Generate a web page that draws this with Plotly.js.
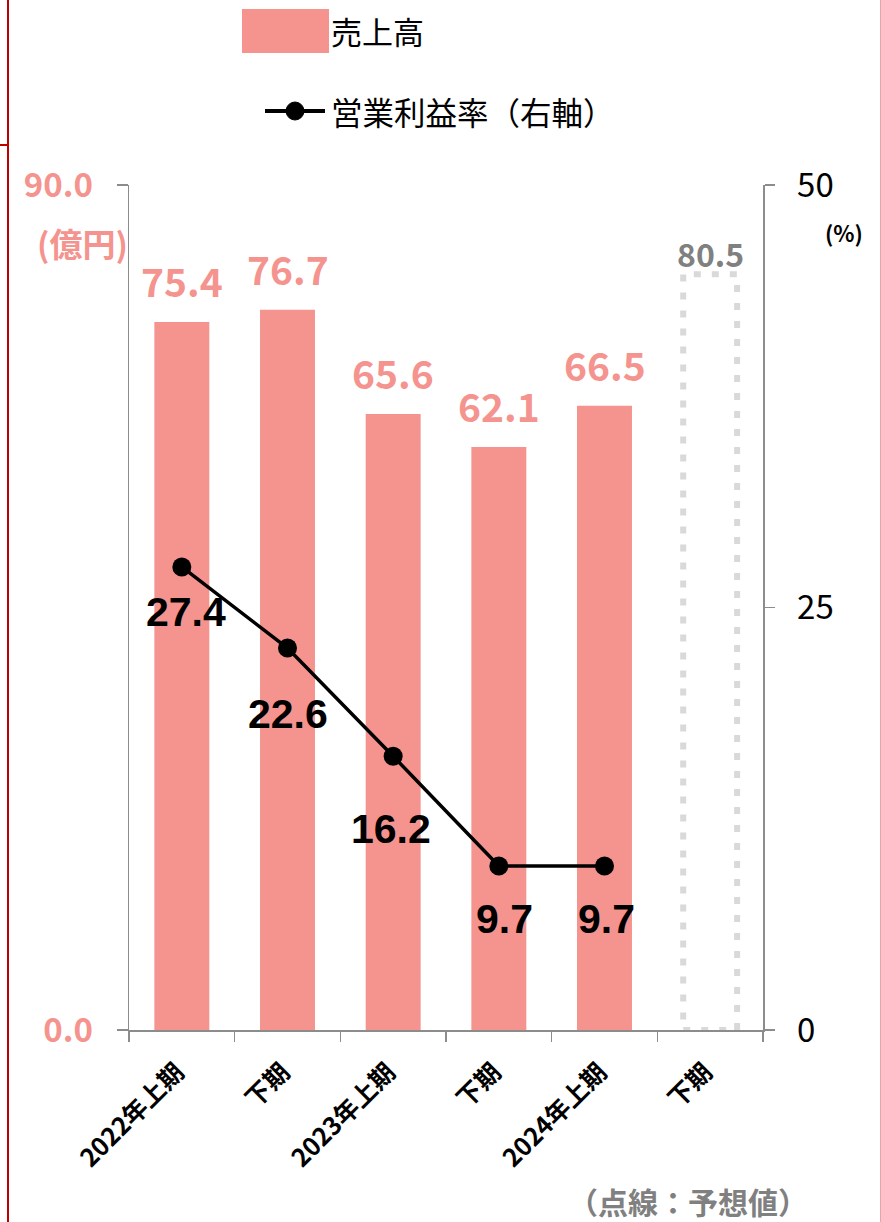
<!DOCTYPE html>
<html>
<head>
<meta charset="utf-8">
<script src="https://cdn.plot.ly/plotly-3.0.1.min.js"></script>
<style>
  html, body { margin: 0; padding: 0; background: #fff; }
  #wrap { position: relative; width: 881px; height: 1222px; overflow: hidden; }
  #chart { position: absolute; left: 0; top: 0; width: 881px; height: 1222px; }
  .vline { position: absolute; left: 7px; top: 0; width: 2px; height: 1222px; background: #C00000; }
  .hline { position: absolute; left: 0; top: 144px; width: 8px; height: 2px; background: #C00000; }
  .rline { position: absolute; left: 880px; top: 0; width: 1px; height: 1222px; background: #E8A3A3; }
</style>
</head>
<body>
<div id="wrap">
  <div id="chart"></div>
  <div class="vline"></div>
  <div class="hline"></div>
  <div class="rline"></div>
</div>
<script>
// ---- data ----
const categoryKeys = ['c1', 'c2', 'c3', 'c4', 'c5', 'c6'];
const categoryLabels = ['2022年上期', '下期', '2023年上期', '下期', '2024年上期', '下期'];
const salesActual = [75.4, 76.7, 65.6, 62.1, 66.5, null];
const salesForecast = [null, null, null, null, null, 80.5];
const marginRate = [27.4, 22.6, 16.2, 9.7, 9.7, null];
const salesName = '売上高';
const marginName = '営業利益率（右軸）';
const leftTicks = [0, 90];
const leftTickText = ['0.0', '90.0'];
const rightTicks = [0, 25, 50];

// ---- style ----
const SALMON = '#F5938E';
const JP = '"Noto Sans CJK JP", "Noto Sans", sans-serif';
const NUM = '"Liberation Sans", Arial, sans-serif';
const W = 881, H = 1222;
const M = { l: 129, r: 118, t: 185, b: 192 };
const PW = W - M.l - M.r, PH = H - M.t - M.b;
const px = x => (x - M.l) / PW;
const py = y => (H - M.b - y) / PH;

// label offsets (pixels) for line value labels: [dx, dy]
const lineLabelShift = [[4, -45], [0, -66], [-2, -73], [6, -53], [2, -53]];

const traces = [
  {
    type: 'bar', x: categoryKeys, y: salesActual, name: salesName,
    marker: { color: SALMON }, width: 0.52, yaxis: 'y', hoverinfo: 'skip', showlegend: false
  },
  {
    type: 'scatter', mode: 'lines+markers', x: categoryKeys, y: marginRate, name: marginName,
    yaxis: 'y2', line: { color: '#000', width: 3.5 },
    marker: { color: '#000', size: 19 }, hoverinfo: 'skip', showlegend: false
  }
];

const annotations = [];
const shapes = [];

// bar value labels
salesActual.forEach((v, i) => {
  if (v == null) return;
  annotations.push({
    x: categoryKeys[i], y: v, xref: 'x', yref: 'y', text: v.toFixed(1),
    showarrow: false, yanchor: 'middle', yshift: 42,
    font: { family: JP, size: 39, color: SALMON, weight: 'bold' }
  });
});
// forecast dotted bar
salesForecast.forEach((v, i) => {
  if (v == null) return;
  shapes.push({
    type: 'rect', xref: 'x', yref: 'y', x0: i - 0.255, x1: i + 0.255, y0: 0, y1: v,
    line: { color: '#D9D9D9', width: 6, dash: '7px,11px' }, fillcolor: 'rgba(0,0,0,0)'
  });
  annotations.push({
    x: categoryKeys[i], y: v, xref: 'x', yref: 'y', text: v.toFixed(1),
    showarrow: false, yanchor: 'middle', yshift: 21,
    font: { family: JP, size: 32, color: '#808080', weight: 'bold' }
  });
});
// line value labels
marginRate.forEach((v, i) => {
  if (v == null) return;
  annotations.push({
    x: categoryKeys[i], y: v, xref: 'x', yref: 'y2', text: v.toFixed(1),
    showarrow: false, yanchor: 'middle', xshift: lineLabelShift[i][0], yshift: lineLabelShift[i][1],
    font: { family: NUM, size: 41, color: '#000', weight: 'bold' }
  });
});

// manual legend
shapes.push({
  type: 'rect', xref: 'paper', yref: 'paper', x0: px(242), x1: px(329), y0: py(53), y1: py(9),
  fillcolor: SALMON, line: { width: 0 }
});
annotations.push({
  xref: 'paper', yref: 'paper', x: px(329), y: py(31), xanchor: 'left', yanchor: 'middle',
  text: salesName, showarrow: false, font: { family: JP, size: 31, color: '#000' }
});
shapes.push({
  type: 'line', xref: 'paper', yref: 'paper', x0: px(265), x1: px(325), y0: py(111), y1: py(111),
  line: { color: '#000', width: 4 }
});
shapes.push({
  type: 'circle', xref: 'paper', yref: 'paper', x0: px(286), x1: px(304), y0: py(120), y1: py(102),
  fillcolor: '#000', line: { color: '#000', width: 1 }
});
annotations.push({
  xref: 'paper', yref: 'paper', x: px(329), y: py(111), xanchor: 'left', yanchor: 'middle',
  text: marginName, showarrow: false, font: { family: JP, size: 31.5, color: '#000' }
});

// units and note
annotations.push({
  xref: 'paper', yref: 'paper', x: px(82), y: py(243), xanchor: 'center', yanchor: 'middle',
  text: '(億円)', showarrow: false, font: { family: JP, size: 33, color: SALMON, weight: 'bold' }
});
annotations.push({
  xref: 'paper', yref: 'paper', x: px(844), y: py(232), xanchor: 'center', yanchor: 'middle',
  text: '(%)', showarrow: false, font: { family: JP, size: 22, color: '#000', weight: 'bold' }
});
annotations.push({
  xref: 'paper', yref: 'paper', x: px(809), y: py(1201), xanchor: 'right', yanchor: 'middle',
  text: '（点線：予想値）', showarrow: false, borderpad: 0,
  font: { family: JP, size: 30, color: '#808080', weight: 'bold' }
});

const axisLine = '#8C8C8C';
const layout = {
  width: W, height: H,
  margin: M,
  paper_bgcolor: '#fff', plot_bgcolor: '#fff',
  showlegend: false,
  font: { family: JP },
  xaxis: {
    type: 'category', categoryorder: 'array', categoryarray: categoryKeys,
    tickmode: 'array', tickvals: categoryKeys, ticktext: categoryLabels,
    tickson: 'boundaries', ticks: 'outside', ticklen: 10, tickcolor: axisLine, tickwidth: 1.5,
    showline: true, linecolor: axisLine, linewidth: 1.5, showgrid: false, zeroline: false,
    tickangle: -45, tickfont: { family: JP, size: 25, color: '#000', weight: 'bold' },
    ticklabelstandoff: 16, ticklabelshift: -5,
    range: [-0.5, 5.5], fixedrange: true
  },
  yaxis: {
    range: [0, 90], tickmode: 'array', tickvals: leftTicks, ticktext: leftTickText,
    ticks: 'outside', ticklen: 11, tickcolor: axisLine, tickwidth: 1.5,
    showline: true, linecolor: axisLine, linewidth: 1.5, showgrid: false, zeroline: false,
    tickfont: { family: JP, size: 33, color: SALMON, weight: 'bold' },
    ticklabelstandoff: 17, fixedrange: true
  },
  yaxis2: {
    overlaying: 'y', side: 'right', range: [0, 50], tickmode: 'array', tickvals: rightTicks,
    ticks: 'outside', ticklen: 10, tickcolor: axisLine, tickwidth: 1.5,
    showline: true, linecolor: axisLine, linewidth: 1.5, showgrid: false, zeroline: false,
    tickfont: { family: '"Liberation Sans Narrow", "Noto Sans CJK JP", sans-serif', size: 33, color: '#000' },
    ticklabelstandoff: 16, fixedrange: true
  },
  shapes: shapes,
  annotations: annotations
};

Plotly.newPlot('chart', traces, layout, { staticPlot: true, displayModeBar: false });
</script>
</body>
</html>
